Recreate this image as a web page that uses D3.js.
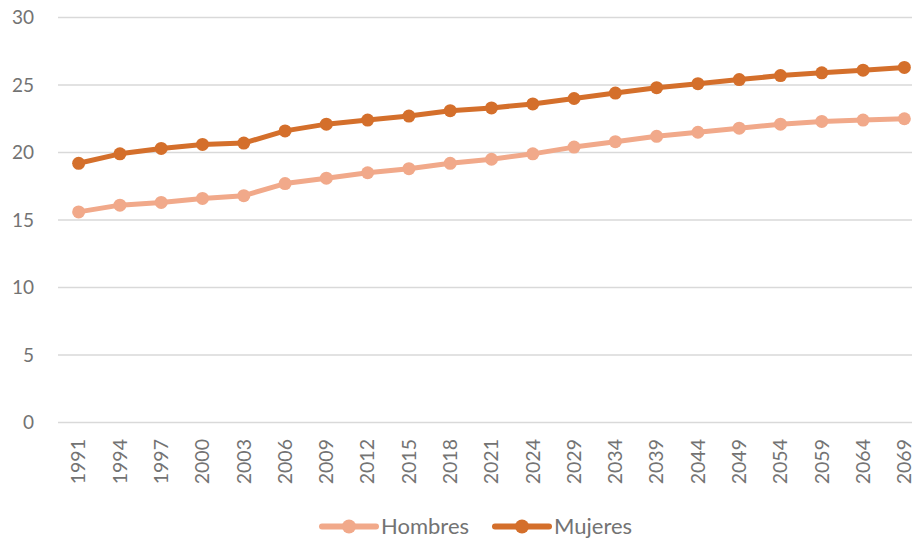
<!DOCTYPE html>
<html>
<head>
<meta charset="utf-8">
<script src="https://cdn.jsdelivr.net/npm/d3@7"></script>
<style>
  html, body { margin: 0; padding: 0; background: #fff; }
  svg { display: block; }
  text { font-family: Lato, "Open Sans", sans-serif; fill: #737373; }
</style>
</head>
<body>
<svg id="chart" width="912" height="541"></svg>
<script>
const years = ["1991","1994","1997","2000","2003","2006","2009","2012","2015","2018","2021",
               "2024","2029","2034","2039","2044","2049","2054","2059","2064","2069"];
const hombres = [15.6,16.1,16.3,16.6,16.8,17.7,18.1,18.5,18.8,19.2,19.5,
                 19.9,20.4,20.8,21.2,21.5,21.8,22.1,22.3,22.4,22.5];
const mujeres = [19.2,19.9,20.3,20.6,20.7,21.6,22.1,22.4,22.7,23.1,23.3,
                 23.6,24.0,24.4,24.8,25.1,25.4,25.7,25.9,26.1,26.3];
const yTicks = [0, 5, 10, 15, 20, 25, 30];
const seriesNames = ["Hombres", "Mujeres"];
const seriesColors = ["#F1A98A", "#D46F2B"];

const svg = d3.select("#chart");
const plotLeft = 58, plotRight = 925, plotTop = 17.5, plotBottom = 422.5;

const x = d3.scalePoint().domain(years).range([plotLeft, plotRight]).padding(0.5);
const y = d3.scaleLinear().domain([0, 30]).range([plotBottom, plotTop]);

// horizontal gridlines
svg.append("g").selectAll("line").data(yTicks).join("line")
  .attr("x1", plotLeft).attr("x2", plotRight)
  .attr("y1", d => y(d)).attr("y2", d => y(d))
  .attr("stroke", "#d9d9d9").attr("stroke-width", 1.3);

// y axis labels
svg.append("g").selectAll("text").data(yTicks).join("text")
  .attr("x", 34).attr("y", d => y(d))
  .attr("dy", "0.35em")
  .attr("text-anchor", "end")
  .style("font-size", "19px")
  .text(d => d);

// x axis labels, rotated
svg.append("g").selectAll("text").data(years).join("text")
  .attr("transform", d => `translate(${x(d)},439) rotate(-90)`)
  .attr("dy", "0.35em")
  .attr("text-anchor", "end")
  .style("font-size", "19.5px")
  .text(d => d);

const line = d3.line().x((d, i) => x(years[i])).y(d => y(d));

[hombres, mujeres].forEach((vals, k) => {
  const g = svg.append("g");
  g.append("path").datum(vals)
    .attr("d", line)
    .attr("fill", "none")
    .attr("stroke", seriesColors[k])
    .attr("stroke-width", 5)
    .attr("stroke-linejoin", "round");
  g.selectAll("circle").data(vals).join("circle")
    .attr("cx", (d, i) => x(years[i]))
    .attr("cy", d => y(d))
    .attr("r", 6.5)
    .attr("fill", seriesColors[k]);
});

// legend
const legendY = 526.5;
const legendItems = [{x0: 322, tx: 381}, {x0: 495, tx: 554}];
legendItems.forEach((it, k) => {
  const g = svg.append("g");
  g.append("line")
    .attr("x1", it.x0).attr("x2", it.x0 + 54)
    .attr("y1", legendY).attr("y2", legendY)
    .attr("stroke", seriesColors[k]).attr("stroke-width", 6)
    .attr("stroke-linecap", "round");
  g.append("circle")
    .attr("cx", it.x0 + 27).attr("cy", legendY).attr("r", 7)
    .attr("fill", seriesColors[k]);
  g.append("text")
    .attr("x", it.tx).attr("y", legendY).attr("dy", "0.36em")
    .style("font-size", "22px")
    .text(seriesNames[k]);
});
</script>
</body>
</html>
